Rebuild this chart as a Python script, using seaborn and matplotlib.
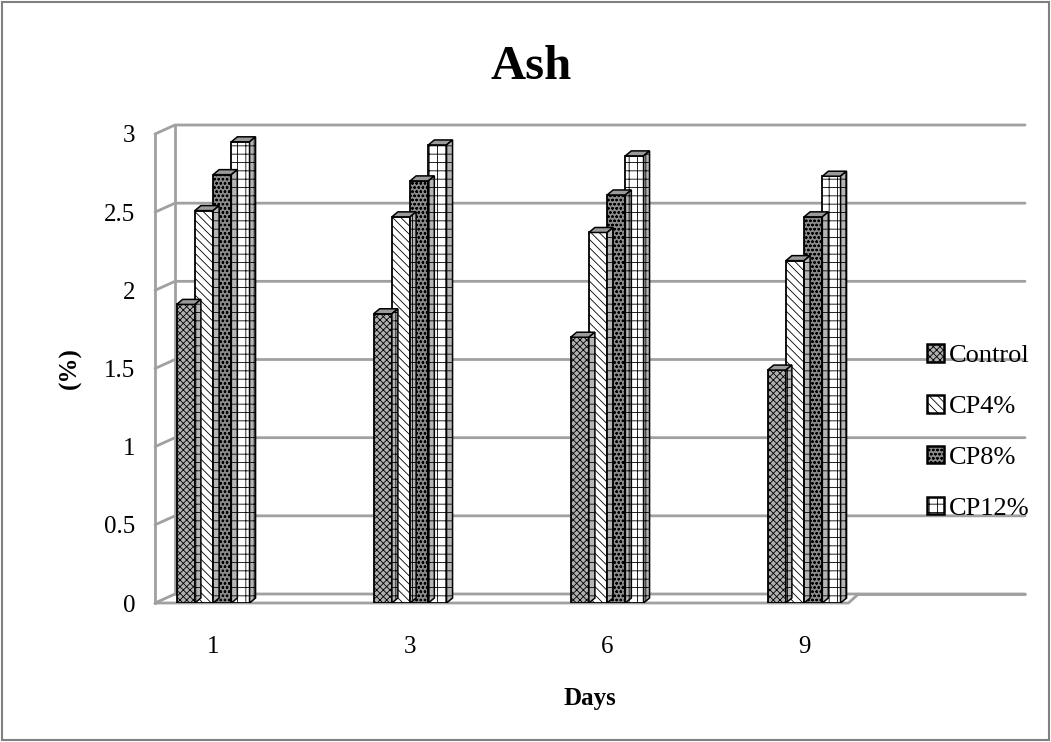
import numpy as np
import pandas as pd
import seaborn as sns
import matplotlib.pyplot as plt
from matplotlib.patches import Rectangle, Polygon, Patch

# values
days = ["1", "3", "6", "9"]
groups = ["Control", "CP4%", "CP8%", "CP12%"]
control = [1.91, 1.85, 1.70, 1.49]
cp4 = [2.51, 2.47, 2.37, 2.19]
cp8 = [2.74, 2.70, 2.61, 2.47]
cp12 = [2.95, 2.93, 2.86, 2.73]
yticks = [0, 0.5, 1, 1.5, 2, 2.5, 3]

faces = ["#b0b0b0", "#ffffff", "#8a8a8a", "#ffffff"]
hatches = ["xxxxx", "\\\\\\\\", "oooo", "++"]

df = pd.DataFrame({
    "Days": days * 4,
    "Group": np.repeat(groups, len(days)),
    "Ash": control + cp4 + cp8 + cp12,
})

sns.set_theme(style="white")
plt.rcParams["font.family"] = ["Liberation Serif", "DejaVu Serif"]
plt.rcParams["hatch.linewidth"] = 0.6
plt.rcParams["text.color"] = "black"
plt.rcParams["axes.labelcolor"] = "black"
plt.rcParams["xtick.color"] = "black"
plt.rcParams["ytick.color"] = "black"

W, H = 1051, 742
fig = plt.figure(figsize=(W / 100, H / 100), dpi=100)
ax = fig.add_axes([155 / W, 139 / H, 870 / W, 469 / H])

bw = 0.37
sns.barplot(data=df, x="Days", y="Ash", hue="Group", hue_order=groups,
            palette=faces, width=bw, edgecolor="black", linewidth=1.3,
            dodge=True, legend=False, ax=ax, saturation=1, zorder=3)

ax.set_ylim(0, 3)
ax.set_xlim(-0.295, -0.295 + 870 / 197)

# 3d offsets in pixels -> data units
px_x = (ax.get_xlim()[1] - ax.get_xlim()[0]) / 870
px_y = 3 / 469
ddx, ddy = 6 * px_x, 5 * px_y

for cont, h in zip(ax.containers, hatches):
    for bar in cont:
        bar.set_hatch(h)
        x0, y1 = bar.get_x(), bar.get_height()
        x1 = x0 + bar.get_width()
        top = Polygon([(x0, y1), (x0 + ddx, y1 + ddy), (x1 + ddx, y1 + ddy), (x1, y1)],
                      closed=True, facecolor="#9a9a9a", edgecolor="black", lw=1.1, zorder=4)
        side = Polygon([(x1, 0), (x1 + ddx, ddy), (x1 + ddx, y1 + ddy), (x1, y1)],
                       closed=True, facecolor="#b5b5b5", edgecolor="black", lw=1.1,
                       hatch="++", zorder=4)
        ax.add_patch(top)
        ax.add_patch(side)

# back wall gridlines with perspective connectors
gx, gy = 20 * px_x, 9 * px_y
xl = ax.get_xlim()
for v in yticks:
    ax.plot([xl[0], xl[0] + gx, xl[1]], [v, v + gy, v + gy],
            color="#a0a0a0", lw=2, zorder=1, clip_on=False)
ax.plot([xl[0] + gx, xl[0] + gx], [gy, 3 + gy], color="#a0a0a0", lw=2, zorder=1, clip_on=False)

# floor
fr = len(days) - 1 + bw / 2 + 0.04
ax.plot([xl[0], fr, fr + gx * 0.5, fr + gx * 0.5], [0, 0, gy, gy],
        color="#a0a0a0", lw=2, zorder=2, clip_on=False)
ax.plot([fr + gx * 0.5, xl[1]], [gy, gy], color="#a0a0a0", lw=2, zorder=1, clip_on=False)

for s in ["top", "right", "bottom"]:
    ax.spines[s].set_visible(False)
ax.spines["left"].set_color("#a0a0a0")
ax.spines["left"].set_linewidth(2)

ax.set_yticks(yticks)
ax.set_yticklabels(["0", "0.5", "1", "1.5", "2", "2.5", "3"])
ax.tick_params(axis="y", direction="out", length=6, width=2, color="#a0a0a0",
               labelsize=18, pad=8)
ax.tick_params(axis="x", length=0, labelsize=18, pad=24)
ax.set_xlabel("Days", fontsize=18, fontweight="bold", labelpad=21)
ax.set_ylabel("(%)", fontsize=18, fontweight="bold", labelpad=16)

fig.text(531 / W, 1 - 67 / H, "Ash", fontsize=35, fontweight="bold",
         ha="center", va="center")

handles = [Patch(facecolor=f, edgecolor="black", hatch=h, lw=1.8) for f, h in zip(faces, hatches)]
fig.legend(handles, groups, loc="center left", bbox_to_anchor=(903 / W, 1 - 432 / H),
           frameon=False, fontsize=19, handlelength=0.65, handleheight=0.65,
           handletextpad=0.2, labelspacing=1.05)

fig.patches.append(Rectangle((2 / W, 2 / H), 1 - 4 / W, 1 - 4 / H, transform=fig.transFigure,
                             fill=False, edgecolor="#808080", lw=1.5))

plt.savefig("out.png", dpi=100)
